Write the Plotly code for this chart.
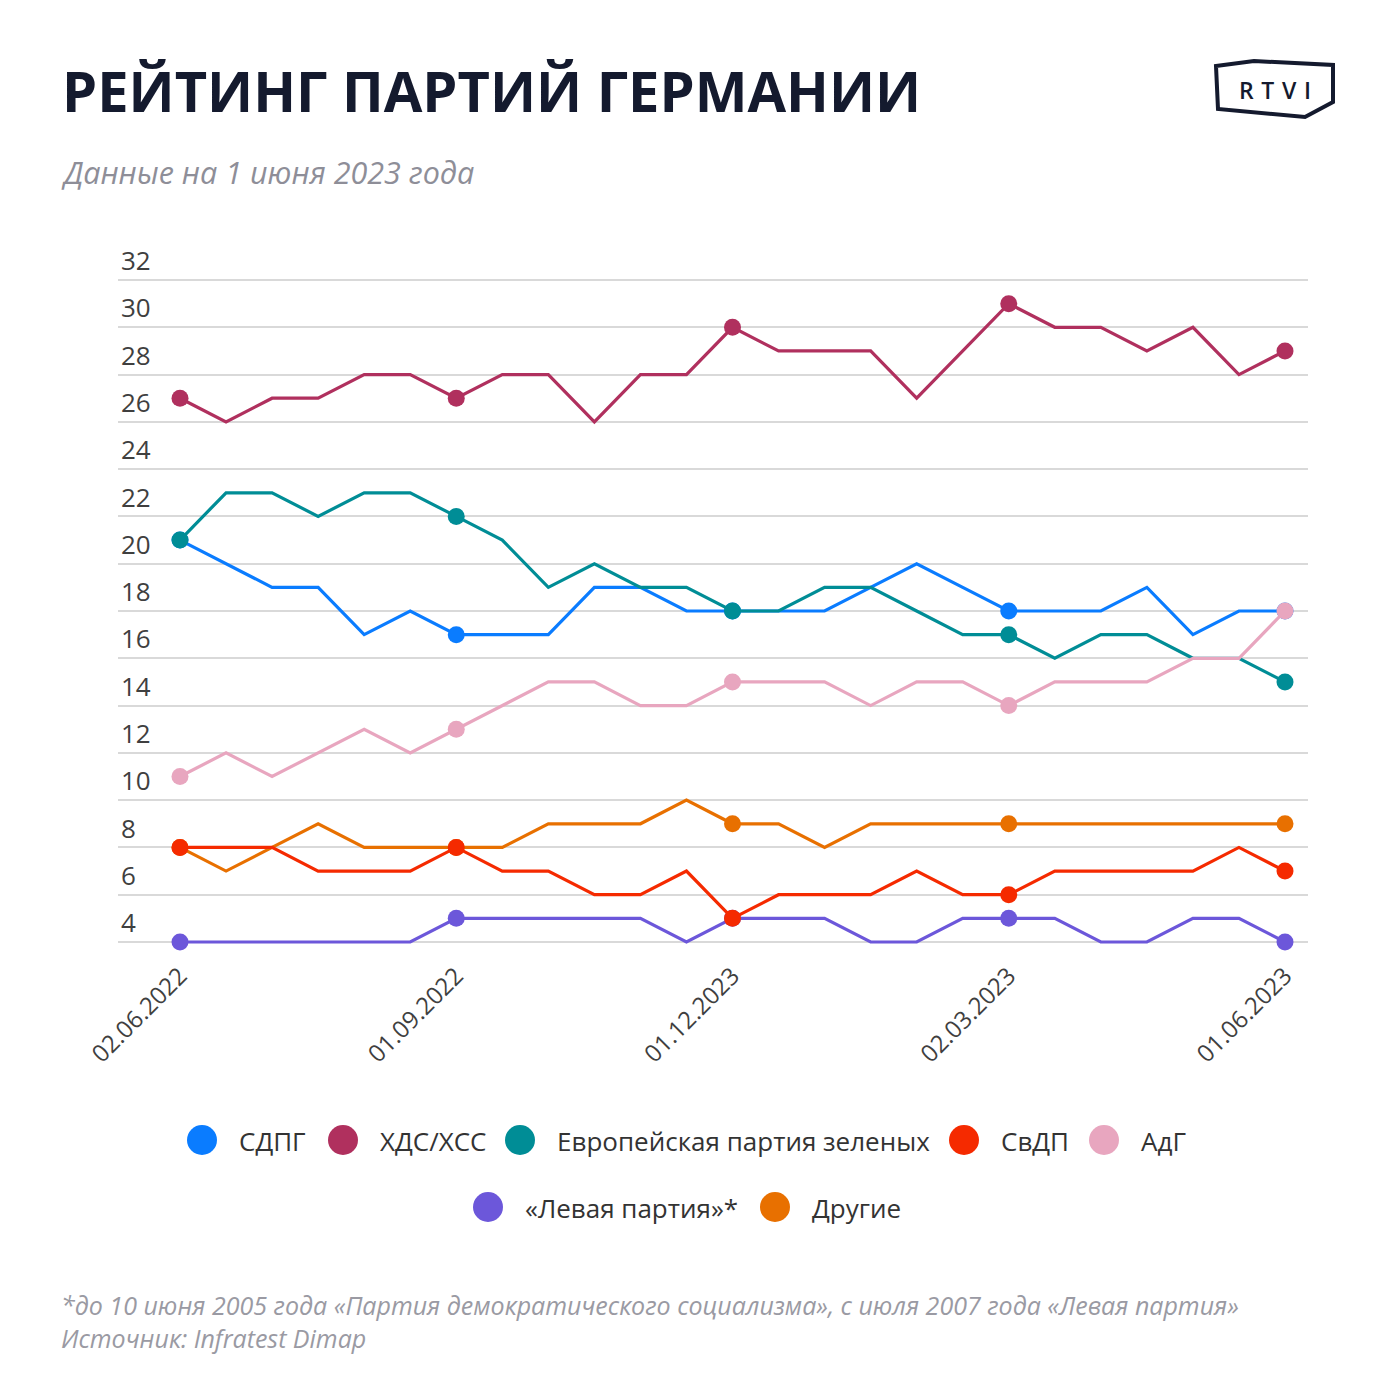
import plotly.graph_objects as go

# ---------------- data ----------------
tick_labels = ["02.06.2022", "01.09.2022", "01.12.2023", "02.03.2023", "01.06.2023"]
tick_index = [0, 6, 12, 18, 24]
n_points = 25

series_names = ["СДПГ", "ХДС/ХСС", "Европейская партия зеленых", "СвДП", "АдГ",
                "«Левая партия»*", "Другие"]
spd = [21, 20, 19, 19, 17, 18, 17, 17, 17, 19, 19, 18, 18, 18, 18, 19, 20, 19, 18, 18, 18, 19, 17, 18, 18]
cdu = [27, 26, 27, 27, 28, 28, 27, 28, 28, 26, 28, 28, 30, 29, 29, 29, 27, 29, 31, 30, 30, 29, 30, 28, 29]
greens = [21, 23, 23, 22, 23, 23, 22, 21, 19, 20, 19, 19, 18, 18, 19, 19, 18, 17, 17, 16, 17, 17, 16, 16, 15]
fdp = [8, 8, 8, 7, 7, 7, 8, 7, 7, 6, 6, 7, 5, 6, 6, 6, 7, 6, 6, 7, 7, 7, 7, 8, 7]
afd = [11, 12, 11, 12, 13, 12, 13, 14, 15, 15, 14, 14, 15, 15, 15, 14, 15, 15, 14, 15, 15, 15, 16, 16, 18]
linke = [4, 4, 4, 4, 4, 4, 5, 5, 5, 5, 5, 4, 5, 5, 5, 4, 4, 5, 5, 5, 4, 4, 5, 5, 4]
others = [8, 7, 8, 9, 8, 8, 8, 8, 9, 9, 9, 10, 9, 9, 8, 9, 9, 9, 9, 9, 9, 9, 9, 9, 9]
y_ticks = [4, 6, 8, 10, 12, 14, 16, 18, 20, 22, 24, 26, 28, 30, 32]

colors = ["#0A7CFF", "#B0305E", "#008D96", "#F52A00", "#E8A6BF", "#6C57DA", "#E87000"]
all_series = [spd, cdu, greens, fdp, afd, linke, others]

# ---------------- layout geometry (screen pixels; page body has an 8px margin) ----------------
OFF = 8
W, H = 1400 - OFF, 1400 - OFF
ML, MR, MT, MB = 110, 92, 225, 456
SL, SR = OFF + ML, OFF + W - MR          # plot area left/right on screen
ST, SB = OFF + MT, OFF + H - MB          # plot area top/bottom on screen

# value->screen reference: 4 at y=942, 32 at y=280 ; index 0 at x=180, 24 at x=1285
u_per_px = (32 - 4) / (942 - 280)
y_lo = 4 + (942 - SB) * u_per_px
y_hi = 4 + (942 - ST) * u_per_px
step = (1285 - 180) / 24
x_lo = (SL - 180) / step
x_hi = 24 + (SR - 1285) / step


def px(x):
    return (x - SL) / (SR - SL)


def py(y):
    return (SB - y) / (SB - ST)


FONT = "Open Sans"
fig = go.Figure()

xs = list(range(n_points))
marker_sizes = [17 if i in tick_index else 0 for i in xs]
draw_order = [0, 2, 1, 4, 6, 5, 3]
for k in draw_order:
    fig.add_trace(go.Scatter(
        x=xs, y=all_series[k], mode="lines+markers", name=series_names[k],
        line=dict(color=colors[k], width=3.2),
        marker=dict(color=colors[k], size=marker_sizes, opacity=1, line=dict(width=0)),
        cliponaxis=False, showlegend=False, hoverinfo="skip",
    ))

fig.update_layout(
    width=W, height=H,
    margin=dict(l=ML, r=MR, t=MT, b=MB, pad=0),
    paper_bgcolor="white", plot_bgcolor="white",
    font=dict(family=FONT, color="#444444"),
    showlegend=False,
    xaxis=dict(range=[x_lo, x_hi], tickvals=tick_index, ticktext=tick_labels,
               tickangle=-45, showgrid=False, zeroline=False, showline=False,
               ticks="", tickfont=dict(size=24, color="#3f3f3f", family=FONT),
               ticklabelstandoff=12),
    yaxis=dict(range=[y_lo, y_hi], tickvals=y_ticks, showgrid=True,
               gridcolor="#D9D9D9", gridwidth=2, zeroline=False, showline=False,
               ticks="", ticklabelposition="inside", ticklabelstandoff=0,
               ticklabelshift=-19,
               tickfont=dict(size=26, color="#3f3f3f", family=FONT)),
)

ann = []
shapes = []
# title / subtitle
ann.append(dict(text="<b>РЕЙТИНГ ПАРТИЙ ГЕРМАНИИ</b>", x=px(60), y=py(90), xref="paper", yref="paper",
                xanchor="left", yanchor="middle", showarrow=False,
                font=dict(size=56, color="#141A2E", family=FONT)))
ann.append(dict(text="<i>Данные на 1 июня 2023 года</i>", x=px(59), y=py(172), xref="paper", yref="paper",
                xanchor="left", yanchor="middle", showarrow=False,
                font=dict(size=30.5, color="#8E8E98", family=FONT)))

# logo
logo_pts = [(1216, 66), (1254, 61), (1333, 65), (1333, 102), (1305, 117), (1218, 109)]
path = "M " + " L ".join(f"{px(a):.5f},{py(b):.5f}" for a, b in logo_pts) + " Z"
shapes.append(dict(type="path", path=path, xref="paper", yref="paper",
                   line=dict(color="#141A2E", width=4)))
ann.append(dict(text="R\u2004T\u2004V\u2004I", x=px(1275), y=py(90), xref="paper", yref="paper",
                xanchor="center", yanchor="middle", showarrow=False,
                font=dict(size=23, color="#141A2E", family=FONT, weight=600)))

# legend (manual)
legend_rows = [
    [(0, 202), (1, 343), (2, 520), (3, 964), (4, 1104)],
    [(5, 488), (6, 775)],
]
legend_y = [1140, 1207]
r = 15
for row, yy in zip(legend_rows, legend_y):
    for k, cx in row:
        shapes.append(dict(type="circle", xref="paper", yref="paper",
                           x0=px(cx - r), x1=px(cx + r), y0=py(yy + r), y1=py(yy - r),
                           fillcolor=colors[k], line=dict(width=0)))
        ann.append(dict(text=series_names[k], x=px(cx + 35), y=py(yy + 1), xref="paper", yref="paper",
                        xanchor="left", yanchor="middle", showarrow=False,
                        font=dict(size=26, color="#333333", family=FONT)))

# footnotes
ann.append(dict(text="<i>*до 10 июня 2005 года «Партия демократического социализма», с июля 2007 года «Левая партия»</i>",
                x=px(59), y=py(1305), xref="paper", yref="paper", xanchor="left", yanchor="middle",
                showarrow=False, font=dict(size=25, color="#9A9AA3", family=FONT)))
ann.append(dict(text="<i>Источник: Infratest Dimap</i>",
                x=px(59), y=py(1338), xref="paper", yref="paper", xanchor="left", yanchor="middle",
                showarrow=False, font=dict(size=25, color="#9A9AA3", family=FONT)))

fig.update_layout(annotations=ann, shapes=shapes)
fig.write_html("out.html")
